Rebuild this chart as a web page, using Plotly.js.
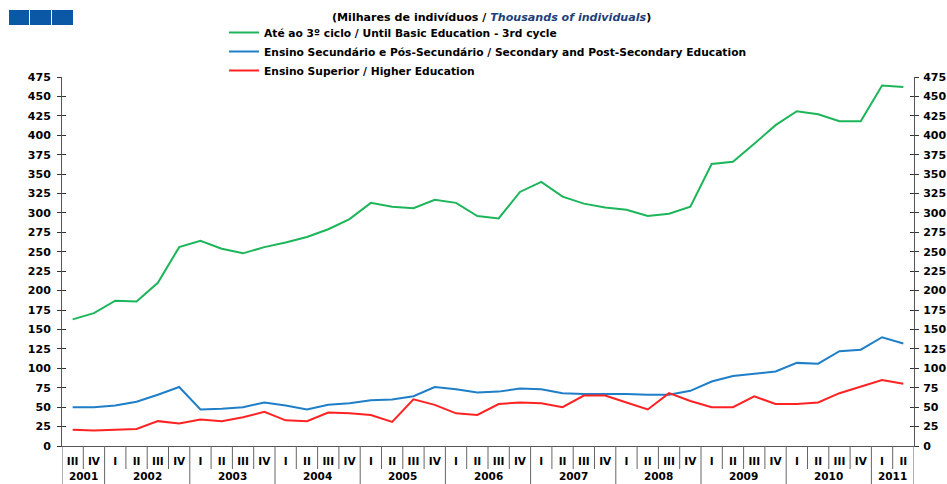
<!DOCTYPE html>
<html>
<head>
<meta charset="utf-8">
<script src="https://cdn.plot.ly/plotly-3.0.1.min.js"></script>
<style>html,body{margin:0;padding:0;background:#fff;}#chart{width:947px;height:484px;}</style>
</head>
<body>
<div id="chart"></div>
<script>
// ---- data ----
const quarterLabels = ["III","IV",
  "I","II","III","IV", "I","II","III","IV", "I","II","III","IV", "I","II","III","IV",
  "I","II","III","IV", "I","II","III","IV", "I","II","III","IV", "I","II","III","IV",
  "I","II","III","IV", "I","II"];
const yearLabels = ["2001","2002","2003","2004","2005","2006","2007","2008","2009","2010","2011"];
const quartersPerYear = [2,4,4,4,4,4,4,4,4,4,2];
const basicEdu = [163,171,187,186,210,256,264,254,248,256,262,269,279,292,313,308,306,317,313,296,
                  293,327,340,321,312,307,304,296,299,308,363,366,389,413,431,427,418,418,464,462];
const secondaryEdu = [50,50,52,57,66,76,47,48,50,56,52,47,53,55,59,60,64,76,73,69,
                      70,74,73,68,67,67,67,66,66,71,83,90,93,96,107,106,122,124,140,132];
const higherEdu = [21,20,21,22,32,29,34,32,37,44,33,32,43,42,40,31,60,53,42,40,
                   54,56,55,50,65,65,56,47,68,58,50,50,64,54,54,56,68,76,85,80];
const seriesNames = ["Até ao 3º ciclo / Until Basic Education - 3rd cycle",
                     "Ensino Secundário e Pós-Secundário / Secondary and Post-Secondary Education",
                     "Ensino Superior / Higher Education"];
const yTicks = [0,25,50,75,100,125,150,175,200,225,250,275,300,325,350,375,400,425,450,475];

// ---- layout geometry ----
const W = 947, H = 484;
const M = {l: 62, r: 33, t: 77, b: 38};
const PW = W - M.l - M.r, PH = H - M.t - M.b;
const px2x = p => (p - M.l) / PW;
const px2y = p => (H - M.b - p) / PH;

const FONT = 'DejaVu Sans, Liberation Sans, Arial, sans-serif';
const idx = quarterLabels.map((_, i) => i);

const colors = ['#1cb55a', '#1f7ec8', '#ff2222'];
const traces = [basicEdu, secondaryEdu, higherEdu].map((v, k) => ({
  type: 'scatter', mode: 'lines', x: idx, y: v, name: seriesNames[k],
  line: {color: colors[k], width: 2}, hoverinfo: 'skip'
}));

// separators and year labels
const shapes = [];
const annotations = [];
let start = 0;
const yearBounds = new Set([ -0.5 ]);
quartersPerYear.forEach((n, k) => {
  const center = start + (n - 1) / 2;
  annotations.push({xref: 'x', yref: 'paper', x: center, y: px2y(476), text: '<b>' + yearLabels[k] + '</b>',
    showarrow: false, font: {family: FONT, size: 10.5, color: '#000'}, yanchor: 'middle'});
  start += n;
  yearBounds.add(start - 0.5);
});
for (let i = 0; i <= quarterLabels.length; i++) {
  const xb = i - 0.5;
  const full = yearBounds.has(xb);
  shapes.push({type: 'line', xref: 'x', yref: 'paper', x0: xb, x1: xb, y0: 0,
    y1: full ? px2y(H + 2) : px2y(469), line: {color: '#666', width: 1}});
}
// logo squares (decoration)
[[9, 29], [30, 51], [52, 73]].forEach(([a, b]) => {
  shapes.push({type: 'rect', xref: 'paper', yref: 'paper', x0: px2x(a), x1: px2x(b), y0: px2y(25), y1: px2y(10),
    fillcolor: '#0b59a6', line: {width: 0}});
});
// title
annotations.push({xref: 'paper', yref: 'paper', x: px2x(492), y: px2y(17), showarrow: false,
  text: "<b>(Milhares de indivíduos / <i><span style='color:#1e3f7c'>Thousands of individuals</span></i>)</b>",
  font: {family: FONT, size: 11.1, color: '#000'}, yanchor: 'middle'});

const yCommon = {range: [0, 475], autorange: false, tickvals: yTicks, fixedrange: true,
  showgrid: false, zeroline: false, showline: true, linecolor: '#555', linewidth: 1,
  tickcolor: '#333', ticklen: 4, tickwidth: 1,
  tickfont: {family: FONT, size: 11, color: '#000', weight: 'bold'}};

const layout = {
  width: W, height: H, margin: M, paper_bgcolor: '#fff', plot_bgcolor: '#fff',
  font: {family: FONT, size: 11, color: '#000'},
  showlegend: true,
  legend: {x: px2x(224), xanchor: 'left', y: px2y(18), yanchor: 'top', bgcolor: 'rgba(0,0,0,0)',
    font: {family: FONT, size: 10.7, color: '#000', weight: 'bold'}, itemwidth: 30, traceorder: 'normal'},
  xaxis: {range: [-0.5, quarterLabels.length - 0.5], autorange: false, fixedrange: true,
    tickvals: idx, ticktext: quarterLabels, ticks: '', showgrid: false, zeroline: false,
    showline: true, linecolor: '#555', linewidth: 1, ticklabelstandoff: 5,
    tickfont: {family: FONT, size: 10.5, color: '#000', weight: 'bold'}},
  yaxis: Object.assign({}, yCommon, {side: 'left', ticks: 'outside', ticklabelstandoff: 4}),
  yaxis2: Object.assign({}, yCommon, {side: 'right', overlaying: 'y', anchor: 'x', ticks: 'outside', ticklabelstandoff: 2}),
  yaxis3: Object.assign({}, yCommon, {side: 'left', overlaying: 'y', anchor: 'x', ticks: 'inside', showticklabels: false}),
  yaxis4: Object.assign({}, yCommon, {side: 'right', overlaying: 'y', anchor: 'x', ticks: 'inside', showticklabels: false}),
  shapes: shapes, annotations: annotations
};

// invisible helper traces so the overlay axes are drawn
const helpers = ['y2', 'y3', 'y4'].map(a => ({type: 'scatter', mode: 'lines', x: [idx[0]], y: [yTicks[0]],
  yaxis: a, showlegend: false, hoverinfo: 'skip', line: {width: 0}, opacity: 0}));

Plotly.newPlot('chart', traces.concat(helpers), layout, {staticPlot: true, displayModeBar: false});
</script>
</body>
</html>
